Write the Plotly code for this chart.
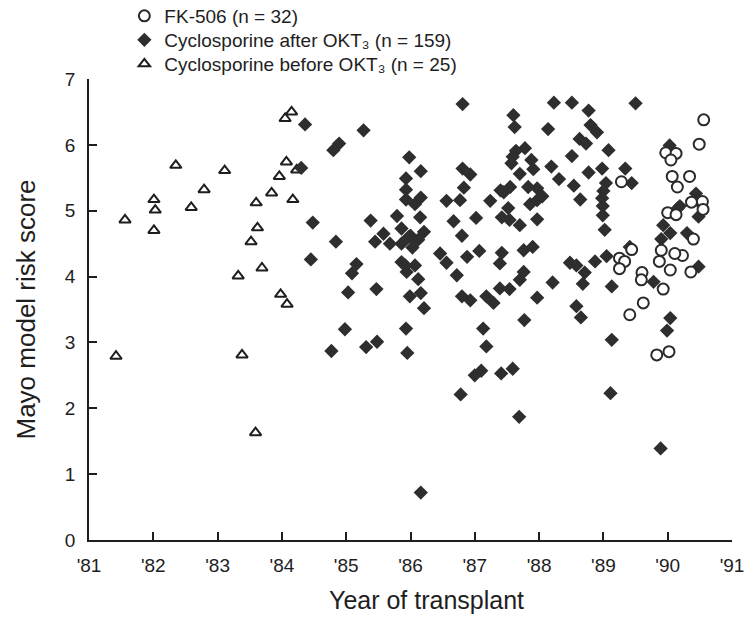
import plotly.graph_objects as go

# ---- Data ----
fk_year = [90.56, 90.49, 89.97, 90.13, 90.05, 90.07, 90.34, 90.15, 89.28, 90.37,
           90.54, 90.55, 90.00, 90.13, 90.40, 89.44, 89.25, 89.33, 89.25, 89.90,
           89.87, 90.04, 90.23, 90.11, 90.36, 89.60, 89.59, 89.93, 89.62, 89.41,
           89.83, 90.02]
fk_score = [6.38, 6.01, 5.88, 5.87, 5.77, 5.52, 5.52, 5.36, 5.44, 5.13,
            5.14, 5.02, 4.97, 4.94, 4.57, 4.41, 4.28, 4.23, 4.12, 4.40,
            4.23, 4.10, 4.32, 4.35, 4.07, 4.06, 3.95, 3.81, 3.60, 3.42,
            2.81, 2.86]

after_year = [84.36, 85.27, 84.89, 84.80, 84.30, 86.81, 87.60, 87.62, 85.98, 86.16,
              85.93, 85.93, 85.93, 86.07, 86.16, 86.15, 85.79, 85.38, 84.48, 84.84,
              84.45, 85.45, 85.58, 85.68, 85.86, 85.97, 86.12, 86.21, 85.86, 86.03,
              85.86, 86.07, 85.94, 86.12, 85.99, 86.16, 86.21, 85.16, 85.09, 85.03,
              85.47, 84.98, 84.77, 85.31, 85.48, 85.93, 85.95, 86.81, 86.93, 86.83,
              86.56, 86.77, 86.67, 87.02, 86.80, 86.46, 86.56, 86.88, 87.07, 86.72,
              86.80, 86.93, 87.18, 87.29, 87.24, 87.40, 87.55, 87.52, 87.42, 87.54,
              87.70, 87.76, 87.42, 87.39, 87.70, 87.39, 87.54, 87.77, 87.13, 87.18,
              87.00, 87.10, 87.41, 87.59, 86.16, 86.78, 87.69, 88.23, 88.51, 89.50,
              88.77, 88.14, 88.80, 88.90, 88.63, 88.73, 89.08, 87.78, 87.64, 87.88,
              87.91, 87.57, 88.51, 88.19, 87.70, 88.77, 88.98, 89.34, 88.31, 88.54,
              89.04, 89.44, 87.83, 87.97, 87.86, 87.97, 88.64, 88.98, 88.99, 88.99,
              89.02, 87.97, 87.90, 88.48, 88.58, 88.71, 88.87, 89.05, 88.68, 88.21,
              87.76, 87.97, 88.58, 88.65, 89.13, 89.13, 89.11, 90.04, 89.99, 89.93,
              90.04, 89.90, 90.44, 90.46, 90.19, 90.16, 90.48, 90.48, 90.03, 89.41,
              89.89, 89.78, 85.92, 87.59, 90.30, 86.00, 87.45, 88.05, 89.00]
after_score = [6.31, 6.22, 6.02, 5.92, 5.65, 6.62, 6.45, 6.27, 5.81, 5.60,
               5.49, 5.32, 5.17, 5.10, 5.20, 4.90, 4.92, 4.85, 4.82, 4.53,
               4.26, 4.53, 4.65, 4.50, 4.73, 4.60, 4.56, 4.68, 4.50, 4.44,
               4.22, 4.17, 4.07, 3.96, 3.70, 3.75, 3.52, 4.19, 4.05, 3.76,
               3.81, 3.20, 2.87, 2.93, 3.01, 3.21, 2.84, 5.64, 5.55, 5.35,
               5.15, 5.16, 4.84, 4.89, 4.62, 4.35, 4.21, 4.30, 4.39, 4.02,
               3.70, 3.64, 3.70, 3.60, 5.15, 5.31, 5.36, 5.04, 4.90, 4.86,
               4.78, 4.40, 4.36, 4.20, 3.95, 3.82, 3.81, 3.34, 3.21, 2.94,
               2.50, 2.57, 2.53, 2.60, 0.72, 2.21, 1.87, 6.64, 6.64, 6.63,
               6.52, 6.24, 6.30, 6.19, 6.09, 6.02, 5.92, 5.95, 5.91, 5.77,
               5.63, 5.72, 5.83, 5.67, 5.56, 5.58, 5.64, 5.64, 5.48, 5.38,
               5.42, 5.42, 5.36, 5.34, 5.10, 5.16, 5.17, 5.19, 5.07, 4.93,
               4.71, 4.87, 4.45, 4.21, 4.17, 4.06, 4.23, 4.31, 3.89, 3.91,
               4.07, 3.68, 3.55, 3.38, 3.85, 3.04, 2.23, 3.37, 3.18, 4.78,
               4.66, 4.57, 5.26, 5.16, 5.07, 5.04, 4.91, 4.15, 5.99, 4.45,
               1.39, 3.92, 4.17, 5.82, 4.66, 4.62, 5.28, 5.22, 5.30]

before_year = [81.56, 82.35, 83.11, 82.79, 82.59, 82.01, 82.03, 82.01, 81.42, 83.38,
               83.59, 83.32, 83.69, 83.52, 83.62, 83.60, 83.84, 83.96, 84.07, 84.17,
               83.98, 84.08, 84.23, 84.15, 84.05]
before_score = [4.86, 5.69, 5.61, 5.32, 5.05, 5.17, 5.01, 4.70, 2.79, 2.81,
                1.63, 4.01, 4.13, 4.53, 4.74, 5.12, 5.27, 5.52, 5.74, 5.17,
                3.73, 3.58, 5.62, 6.50, 6.40]

x_tickvals = [81, 82, 83, 84, 85, 86, 87, 88, 89, 90, 91]
x_ticktext = ["'81", "'82", "'83", "'84", "'85", "'86", "'87", "'88", "'89", "'90", "'91"]
y_tickvals = [0, 1, 2, 3, 4, 5, 6, 7]

FONT = "Arial, Liberation Sans, Helvetica, sans-serif"
INK = "#1e1e1e"

fig = go.Figure()

fig.add_trace(go.Scatter(
    x=before_year, y=before_score, mode="markers",
    name="Cyclosporine before OKT\u2083 (n = 25)",
    legend="legend3",
    marker=dict(symbol="triangle-up", size=10, color="white",
                line=dict(color=INK, width=2)),
))
fig.add_trace(go.Scatter(
    x=after_year, y=after_score, mode="markers",
    name="Cyclosporine after OKT\u2083 (n = 159)",
    legend="legend2",
    marker=dict(symbol="diamond", size=11, color="#2e2e2e",
                line=dict(color="#2e2e2e", width=0)),
))
fig.add_trace(go.Scatter(
    x=fk_year, y=fk_score, mode="markers",
    name="FK-506 (n = 32)",
    legend="legend",
    marker=dict(symbol="circle", size=11, color="white",
                line=dict(color="#2a2a2a", width=2)),
))

def leg(ypx):
    return dict(x=0.055, y=1 - ypx / 624, xanchor="left", yanchor="middle",
                yref="container", bgcolor="rgba(0,0,0,0)",
                font=dict(size=19, color=INK), itemwidth=30)

fig.update_layout(
    width=753, height=624,
    margin=dict(l=89, r=21, t=79, b=84, autoexpand=False),
    paper_bgcolor="white", plot_bgcolor="white",
    font=dict(family=FONT, color=INK, size=18),
    showlegend=True,
    legend=leg(16), legend2=leg(40), legend3=leg(64),
    annotations=[
        dict(text="Year of transplant", xref="paper", yref="paper",
             x=(426 - 89) / 643, y=(540 - 600) / 461, xanchor="center", yanchor="middle",
             showarrow=False, font=dict(size=25, color=INK)),
        dict(text="Mayo model risk score", xref="paper", yref="paper",
             x=(25 - 89) / 643, y=0.5, xanchor="center", yanchor="middle",
             textangle=-90, showarrow=False, font=dict(size=26, color=INK)),
    ],
)
fig.update_xaxes(
    range=[81, 91], tickvals=x_tickvals, ticktext=x_ticktext,
    showgrid=False, zeroline=False, showline=True, linecolor=INK, linewidth=1.8,
    ticks="inside", ticklen=8, tickwidth=1.8, tickcolor=INK,
    tickfont=dict(size=19, color=INK), ticklabelstandoff=7,
)
fig.update_yaxes(
    range=[0, 7], tickvals=y_tickvals,
    showgrid=False, zeroline=False, showline=True, linecolor=INK, linewidth=1.8,
    ticks="inside", ticklen=8, tickwidth=1.8, tickcolor=INK,
    tickfont=dict(size=19, color=INK), ticklabelstandoff=8,
)

fig.write_html("out.html")
